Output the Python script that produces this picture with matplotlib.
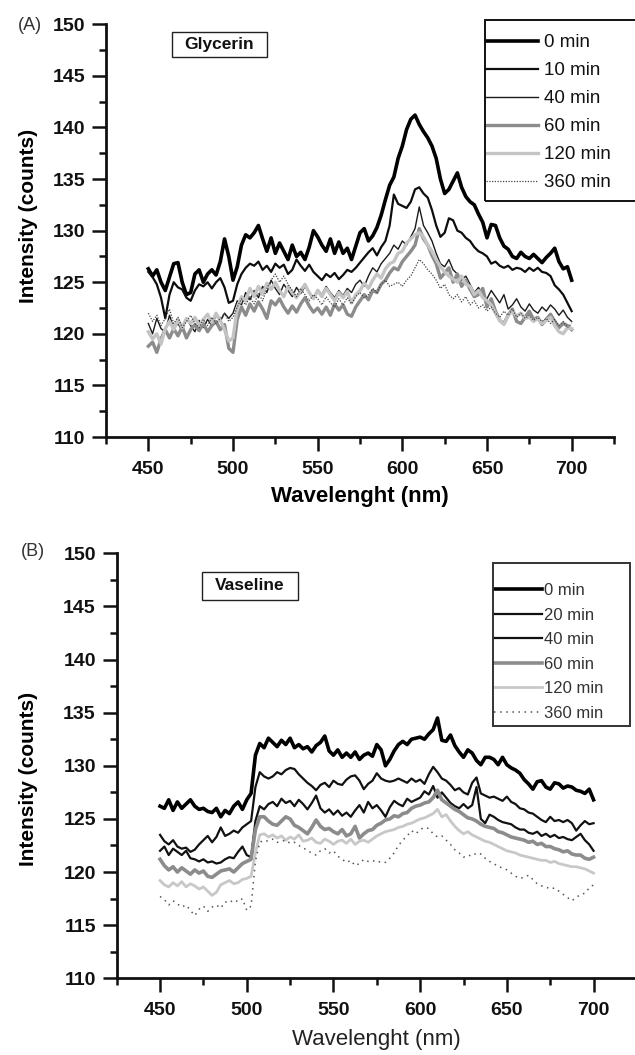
"""Emission spectra of glycerin and vaseline samples over time (two stacked panels)."""

import numpy as np
import matplotlib
matplotlib.use("Agg")
import matplotlib.pyplot as plt
from matplotlib.patches import Rectangle
from matplotlib.ticker import MultipleLocator

# ----------------------------------------------------------------------
# Module configuration
# ----------------------------------------------------------------------

FIG_W_PX = 635
FIG_H_PX = 1055
DPI = 100
FONT = "Liberation Sans"

plt.rcParams["font.family"] = [FONT, "DejaVu Sans"]

# ----------------------------------------------------------------------
# Data
# ----------------------------------------------------------------------

wavelength = np.arange(450, 702.5, 2.5)

x_ticks = [450, 500, 550, 600, 650, 700]
x_tick_labels = ["450", "500", "550", "600", "650", "700"]
y_ticks = [110, 115, 120, 125, 130, 135, 140, 145, 150]
y_tick_labels = ["110", "115", "120", "125", "130", "135", "140", "145", "150"]

glycerin_labels = ["0 min", "10 min", "40 min", "60 min", "120 min", "360 min"]
vaseline_labels = ["0 min", "20 min", "40 min", "60 min", "120 min", "360 min"]

glycerin_0 = [
    126.3, 125.6, 126.2, 125.0, 124.2, 125.5, 126.8, 126.9, 125.0, 123.8,
    124.0, 125.8, 126.2, 125.0, 125.8, 126.2, 125.7, 127.0, 129.2, 127.5,
    125.2, 126.5, 128.6, 129.6, 129.3, 129.8, 130.5, 129.2, 128.0, 129.3,
    127.8, 128.8, 128.0, 127.2, 128.6, 127.5, 127.9, 127.2, 128.4, 130.0,
    129.4, 128.6, 128.0, 129.2, 127.8, 128.9, 127.8, 128.3, 127.2, 128.5,
    129.8, 130.2, 129.0, 129.5, 130.3, 131.5, 133.0, 134.4, 135.2, 137.0,
    138.2, 139.8, 140.8, 141.2, 140.3, 139.6, 139.0, 138.2, 137.0, 135.0,
    133.6, 134.0, 134.8, 135.6, 134.2, 133.3, 132.8, 132.5, 131.6, 130.8,
    129.3, 130.6, 130.5, 129.3, 128.5, 128.2, 127.5, 127.3, 127.9, 127.5,
    127.3, 127.7, 127.3, 126.9, 127.4, 127.8, 128.3, 127.0, 126.3, 126.5,
    125.2,
]
glycerin_10 = [
    126.0, 125.5, 124.8, 123.5, 121.5, 123.8, 125.0, 124.5, 124.3, 123.5,
    123.2, 124.2, 124.8, 124.6, 125.0, 124.4, 125.0, 125.4, 124.5, 123.0,
    123.2, 124.8, 125.8, 126.4, 126.8, 126.6, 127.0, 126.2, 126.6, 126.0,
    126.8, 126.4, 126.7, 125.8, 126.2, 127.2, 126.6, 126.1, 126.7, 126.0,
    125.6, 125.2, 125.8, 125.5, 125.9, 125.3, 125.7, 126.2, 126.0, 126.4,
    126.9, 127.4, 127.9, 128.3, 127.6, 128.4, 129.0, 130.5, 133.5, 132.6,
    132.4, 132.2, 132.8, 134.0, 134.2, 133.6, 133.2, 132.0, 130.5, 129.4,
    129.8, 131.2, 131.0, 130.0, 129.8, 129.3, 129.0, 128.4, 128.0, 127.8,
    127.5, 126.8, 127.0, 126.6, 126.4, 126.6, 126.2, 126.4, 126.3, 126.0,
    126.4, 126.1, 126.4, 126.0, 125.9, 125.6, 124.7, 124.3, 123.8, 123.0,
    122.2,
]
glycerin_40 = [
    121.0, 120.0, 121.5, 120.5, 120.2, 121.8, 120.5, 121.0, 120.3, 121.5,
    120.8, 120.2, 121.3, 120.6, 121.4, 120.8, 121.8, 121.2, 122.0, 121.5,
    122.0, 123.2, 122.8, 124.0, 123.3, 124.2, 123.5, 124.6, 124.0, 125.2,
    124.4, 123.8, 124.8, 124.2, 123.6, 124.5, 123.9, 124.6, 124.0, 123.5,
    124.3, 123.8, 124.6, 124.0, 123.5, 124.2, 123.7, 124.4, 124.0, 124.8,
    125.2, 124.6, 125.6, 126.4, 126.0, 126.8, 127.3, 127.8, 128.6, 128.2,
    129.0, 128.6, 129.4, 130.2, 132.3, 130.5, 129.8, 129.0, 127.8, 126.8,
    126.5, 127.2, 126.2, 125.8, 125.2, 125.6, 124.8, 124.0, 124.5, 123.6,
    123.4, 124.2, 123.6, 123.0, 123.8, 122.4, 122.8, 123.4, 122.6, 122.2,
    122.9, 122.3, 122.0, 122.6, 122.2, 122.8, 122.4, 121.8, 122.3, 121.6,
    121.2,
]
glycerin_60 = [
    118.8, 119.2, 118.2, 119.5, 120.4, 119.6, 120.5, 119.8, 120.7, 119.6,
    120.4, 120.9, 120.3, 121.0, 120.2, 120.8, 121.2, 120.4, 120.9, 118.6,
    118.2, 121.4, 122.6, 121.8, 122.9, 122.2, 123.1, 122.4, 121.5, 123.2,
    122.8, 123.4, 122.6, 122.0, 122.7, 122.1, 122.9, 123.5, 122.7, 122.1,
    122.5, 121.9, 122.6, 121.8, 122.9, 122.3, 122.8, 121.9, 121.7, 122.6,
    123.2, 123.8, 123.3, 124.2, 124.0, 124.8, 125.2, 125.9, 126.4, 126.2,
    127.0, 127.5, 128.0, 128.6, 130.2, 129.2, 128.6, 127.6, 126.8, 125.4,
    125.9, 126.4, 125.0, 125.8, 124.6, 125.2, 124.3, 123.6, 123.8, 124.4,
    122.6, 123.4, 122.2, 121.3, 121.0, 121.8, 122.4, 121.2, 121.0, 121.6,
    122.2, 121.4, 121.6, 120.9, 121.4, 121.9, 121.2, 120.6, 121.0, 120.8,
    120.4,
]
glycerin_120 = [
    120.2, 119.5, 120.0, 119.0, 120.5, 121.2, 120.4, 121.4, 120.6, 121.5,
    121.0, 121.6, 120.8, 121.4, 121.9, 121.1, 122.0, 121.3, 120.4, 119.3,
    119.6, 122.5, 123.6, 123.2, 124.4, 123.6, 124.6, 123.8, 124.9, 124.3,
    125.0, 124.2, 123.6, 124.6, 124.0, 123.5, 124.2, 124.8, 124.0, 123.4,
    124.2, 123.6, 124.4, 123.8, 123.2, 124.0, 123.5, 124.1, 123.0, 123.8,
    124.2, 124.9, 124.4, 125.2, 125.8, 125.4, 126.3, 126.8, 127.0, 127.8,
    128.0, 128.8, 129.2, 129.6, 129.8, 129.4, 128.6, 128.0, 127.2, 126.5,
    126.0, 125.6, 125.3, 125.0, 125.6, 124.8, 124.6, 123.8, 124.2, 123.5,
    123.2, 122.8, 122.0, 121.3, 120.9, 121.8, 122.2, 121.7, 122.0, 121.5,
    121.6, 121.2, 121.5, 121.0, 121.3, 121.6, 120.8, 120.2, 120.0, 120.6,
    120.5,
]
glycerin_360 = [
    122.0, 121.2, 121.8, 120.8, 121.5, 122.4, 121.0, 121.6, 120.6, 121.2,
    121.8, 121.0, 120.6, 121.4, 120.8, 121.6, 121.0, 121.5, 122.0, 121.2,
    121.6, 122.6, 123.4, 122.8, 123.6, 122.9, 123.9, 123.2, 124.4, 125.2,
    125.8, 125.0, 125.6, 124.8, 124.2, 123.6, 124.4, 123.8, 123.2, 123.8,
    123.4, 122.8, 123.6, 123.0, 122.6, 123.4, 122.8, 123.5, 122.9, 123.6,
    124.0, 123.5, 123.8, 124.4, 124.0, 124.8, 125.2, 124.6, 124.8, 125.0,
    124.6, 125.2, 125.6, 126.4, 127.2, 126.8, 126.2, 125.8, 125.2, 124.4,
    124.8, 123.8, 123.4, 123.8, 123.1, 123.6, 122.8, 123.2, 122.5, 122.8,
    122.2, 122.6, 122.0, 121.6, 122.2, 121.8, 122.4, 121.6, 122.0, 121.5,
    121.8, 121.3, 121.6, 121.2, 121.5, 121.0, 121.4, 120.8, 121.2, 120.6,
    121.0,
]

vaseline_0 = [
    126.2, 126.0, 126.8, 125.8, 126.6, 126.0, 126.4, 126.8, 126.2, 125.9,
    126.0, 125.7, 125.6, 126.0, 125.2, 125.8, 125.5, 126.2, 126.6, 125.9,
    126.8, 127.4, 131.0, 132.1, 131.7, 132.6, 132.2, 131.8, 132.4, 132.0,
    132.6, 131.7, 132.0, 131.6, 131.8, 131.3, 131.9, 132.2, 132.8, 131.4,
    131.0, 131.5, 130.8, 131.2, 130.8, 131.3, 130.6, 131.0, 131.2, 130.9,
    132.0, 131.5, 130.0, 130.6, 131.4, 132.0, 132.3, 132.0, 132.5, 132.6,
    132.7, 132.5, 133.0, 133.4, 134.5, 132.4, 132.3, 132.9, 131.9, 131.3,
    130.8, 131.5, 131.2, 130.5, 130.1, 130.8, 130.8, 130.6, 130.1, 130.8,
    130.1, 129.8, 129.6, 129.3, 128.7, 128.3, 127.8, 128.5, 128.6, 128.0,
    127.8, 128.4, 128.3, 127.9, 128.1, 128.0, 127.7, 127.6, 127.4, 127.8,
    126.8,
]
vaseline_20 = [
    123.5, 122.9, 122.6, 123.0, 122.4, 122.2, 122.3, 121.9, 122.1, 122.6,
    123.0, 123.4, 122.8, 123.3, 124.2, 123.4, 123.6, 123.9, 123.7, 124.2,
    124.5, 124.8, 128.0, 129.4, 129.0, 128.8, 129.0, 129.4, 129.2, 129.6,
    129.8, 129.7, 129.2, 128.8, 128.4, 128.1, 127.7, 128.2, 128.4, 128.0,
    128.6, 128.3, 128.2, 128.7, 129.0, 129.1, 128.6, 127.8, 128.3, 128.6,
    129.3, 128.8, 128.6, 128.5, 128.6, 128.8, 128.6, 128.4, 128.8, 128.5,
    128.7, 128.3, 129.2, 129.9, 129.4, 128.8, 128.6, 128.2, 127.7, 127.9,
    127.5, 127.3, 128.4, 128.9, 127.4, 127.2, 127.0, 127.1, 126.9, 126.7,
    127.1, 126.6, 126.4, 126.0, 125.9, 125.6, 125.5, 125.2, 124.9, 124.7,
    125.2, 124.8, 124.9, 124.7, 124.9, 124.6, 123.9, 124.4, 124.8, 124.5,
    124.6,
]
vaseline_40 = [
    122.0, 122.4, 121.6, 122.2, 121.9, 121.6, 122.0, 121.3, 121.2, 121.0,
    121.2, 120.9, 121.0, 120.8, 120.9, 121.2, 121.4, 121.3, 121.9, 122.4,
    121.6, 121.4, 124.8, 126.2, 125.9, 126.4, 126.6, 126.2, 126.9, 126.5,
    126.7, 126.2, 126.8, 126.4, 125.9, 126.5, 127.2, 126.0, 125.6, 125.9,
    125.4, 125.8, 125.3, 125.6, 125.2, 125.8, 126.3, 125.6, 126.6, 126.0,
    126.3, 125.8, 125.2, 126.1, 126.7, 126.4, 126.2, 126.9, 126.6, 126.8,
    127.0, 127.6, 127.3, 128.1, 127.0, 127.5, 127.0, 126.5, 126.2, 126.0,
    126.4, 126.0, 126.3, 128.0, 125.0, 124.6, 125.4, 125.2, 124.9, 124.7,
    124.6, 124.5, 124.2, 124.0, 124.0, 123.7, 123.6, 123.8, 123.4, 123.6,
    123.3, 123.5, 123.2, 123.3, 123.1, 123.0, 123.3, 123.6, 123.0, 122.6,
    122.0,
]
vaseline_60 = [
    121.2, 120.6, 120.2, 120.5, 120.0, 120.4, 120.1, 119.8, 120.2, 119.9,
    120.1, 119.6, 119.5, 119.8, 120.1, 120.2, 120.3, 120.0, 120.4, 120.8,
    121.0, 121.2, 124.0, 125.2, 125.2, 124.8, 124.5, 124.4, 124.8, 125.2,
    125.0, 124.4, 124.2, 123.9, 123.6, 124.2, 124.9, 124.3, 124.0, 124.1,
    123.8, 123.6, 124.0, 123.4, 123.6, 124.3, 123.2, 123.6, 123.9, 124.0,
    124.4, 124.6, 124.9, 125.0, 125.3, 125.2, 125.5, 125.6, 126.0, 126.2,
    126.3, 126.5, 126.6, 127.0, 127.7, 126.8, 126.5, 126.2, 125.9, 125.7,
    125.4, 125.1, 125.0, 124.8, 124.5, 124.3, 124.2, 124.1, 123.8, 123.7,
    123.5, 123.3, 123.2, 123.1, 123.0, 122.8, 122.9, 122.6, 122.7, 122.4,
    122.4, 122.2, 122.1, 121.9, 122.0, 121.7, 121.6, 121.6, 121.3, 121.2,
    121.4,
]
vaseline_120 = [
    119.2, 118.8, 118.6, 119.0, 118.7, 119.1, 118.6, 118.9, 118.7, 118.4,
    118.6, 118.2, 117.8, 118.1, 118.8, 119.0, 119.2, 118.9, 119.0, 119.3,
    119.4, 119.6, 121.8, 123.5, 123.6, 123.3, 123.5, 123.2, 123.4, 123.0,
    123.3, 123.1, 123.5, 122.9, 123.0, 123.2, 122.8, 122.7, 123.1, 122.9,
    122.6, 122.9, 123.0, 122.7, 123.1, 122.6, 122.9, 123.0, 122.8, 123.1,
    123.4, 123.6, 123.8, 123.9, 124.0, 124.2, 124.3, 124.5, 124.6, 124.8,
    125.0, 125.1, 125.3, 125.5, 125.9, 125.2, 125.4, 124.8, 124.3, 123.9,
    123.6, 123.8, 123.5, 123.3, 123.1, 122.9, 122.8, 122.6, 122.4, 122.2,
    122.0, 121.9, 121.8, 121.6, 121.5, 121.4, 121.3, 121.2, 121.1, 121.1,
    120.9, 121.0, 120.8, 120.7, 120.6, 120.5, 120.5, 120.4, 120.3, 120.1,
    119.9,
]
vaseline_360 = [
    117.7, 117.4, 116.9, 117.3, 117.0, 116.7, 116.9, 116.4, 115.9, 116.5,
    116.8, 116.3, 116.7, 116.9, 116.6, 117.2, 117.1, 117.4, 117.2, 117.5,
    116.4, 116.8, 121.0, 122.8, 123.0, 122.9, 123.1, 122.8, 122.9, 123.0,
    122.7, 122.8, 122.5, 122.3, 122.0, 121.8, 121.6, 122.0, 122.2, 121.8,
    122.0, 121.5, 121.2, 120.9, 121.1, 120.6, 120.8, 121.2, 121.0, 121.1,
    120.9, 121.0, 120.9, 121.3, 121.8, 122.5, 123.0, 123.4, 123.9, 123.6,
    124.0, 124.2, 124.1, 123.6, 123.3, 123.4, 123.0, 122.6, 122.1, 121.8,
    121.4, 121.6, 121.5, 121.8, 121.7, 121.3, 121.0, 120.8, 120.5, 120.4,
    120.2, 119.9, 119.6, 119.4, 119.5, 119.7, 119.3, 118.9, 118.7, 118.6,
    118.4, 118.5, 118.2, 117.9, 117.6, 117.3, 117.6, 117.9, 118.0, 118.5,
    118.8,
]

# ----------------------------------------------------------------------
# Styles
# ----------------------------------------------------------------------

GLYCERIN_STYLES = [
    dict(color="#000000", lw=2.6, ls="-"),
    dict(color="#0d0d0d", lw=1.6, ls="-"),
    dict(color="#1a1a1a", lw=1.0, ls="-"),
    dict(color="#8c8c8c", lw=2.4, ls="-"),
    dict(color="#c4c4c4", lw=2.4, ls="-"),
    dict(color="#444444", lw=0.9, ls=(0, (1, 1.2))),
]
VASELINE_STYLES = [
    dict(color="#000000", lw=2.6, ls="-"),
    dict(color="#111111", lw=1.6, ls="-"),
    dict(color="#111111", lw=1.6, ls="-"),
    dict(color="#8c8c8c", lw=2.6, ls="-"),
    dict(color="#c8c8c8", lw=2.0, ls="-"),
    dict(color="#555555", lw=1.1, ls=(0, (1, 3))),
]


def px_x(px):
    return px / FIG_W_PX


def px_y(px):
    return 1 - px / FIG_H_PX


def style_axes(ax):
    """Origin-like axes: left/bottom spines only, bold tick labels."""
    for side in ("top", "right"):
        ax.spines[side].set_visible(False)
    for side in ("left", "bottom"):
        ax.spines[side].set_linewidth(2.0)
        ax.spines[side].set_color("#111111")
    ax.set_xlim(425, 725)
    ax.set_ylim(110, 150)
    ax.set_xticks(x_ticks, labels=x_tick_labels, fontweight="bold",
                  fontsize=14, color="#111111")
    ax.set_yticks(y_ticks, labels=y_tick_labels, fontweight="bold",
                  fontsize=14, color="#111111")
    ax.xaxis.set_minor_locator(MultipleLocator(25))
    ax.yaxis.set_minor_locator(MultipleLocator(2.5))
    ax.tick_params(which="major", direction="out", length=10, width=1.8,
                   color="#111111")
    ax.tick_params(which="minor", direction="out", length=5, width=1.8,
                   color="#111111")
    ax.tick_params(axis="x", which="major", pad=7)
    ax.tick_params(axis="y", which="major", pad=5)


def draw_panel(ax, series, labels, styles):
    for values, label, st in zip(series, labels, styles):
        ax.plot(wavelength, values, label=label, color=st["color"],
                lw=st["lw"], linestyle=st["ls"], solid_joinstyle="round")
    style_axes(ax)


def frame_box(fig, box_px, edgecolor, lw, facecolor="white"):
    """Plain rectangle in figure pixels, box given as (left, top, right, bottom)."""
    left, top, right, bottom = box_px
    rect = Rectangle((px_x(left), px_y(bottom)), px_x(right - left),
                     (bottom - top) / FIG_H_PX, transform=fig.transFigure,
                     facecolor=facecolor, edgecolor=edgecolor, lw=lw, zorder=2)
    fig.add_artist(rect)


def name_box(fig, text, box_px, fontsize):
    """Small framed sample name."""
    left, top, right, bottom = box_px
    frame_box(fig, box_px, "#222222", 1.0)
    fig.text(px_x((left + right) / 2), px_y((top + bottom) / 2), text,
             ha="center", va="center", fontsize=fontsize,
             fontweight="bold", color="#111111", zorder=3)


def add_legend(fig, ax, box_px, first_row_px, size, handlelength,
               handletextpad, labelspacing, text_color):
    left, top, right, bottom = box_px
    frame_box(fig, box_px, text_color, 1.4, facecolor="none")
    row_h = 0.93 * size * DPI / 72
    leg = ax.legend(loc="upper left",
                    bbox_to_anchor=(px_x(left + 1), px_y(first_row_px - row_h / 2)),
                    bbox_transform=fig.transFigure, borderaxespad=0,
                    borderpad=0, prop=dict(family=FONT, size=size),
                    handlelength=handlelength, handletextpad=handletextpad,
                    labelspacing=labelspacing, frameon=False)
    for txt in leg.get_texts():
        txt.set_color(text_color)
    return leg


fig = plt.figure(figsize=(FIG_W_PX / DPI, FIG_H_PX / DPI), dpi=DPI)

# top panel: glycerin
ax_a = fig.add_axes([px_x(106), px_y(437), (614 - 106) / FIG_W_PX,
                     (437 - 24.3) / FIG_H_PX])
draw_panel(ax_a, [glycerin_0, glycerin_10, glycerin_40, glycerin_60,
                  glycerin_120, glycerin_360], glycerin_labels,
           GLYCERIN_STYLES)
ax_a.set_xlabel("Wavelenght (nm)", fontsize=16, fontweight="bold")
ax_a.set_ylabel("Intensity (counts)", fontsize=15, fontweight="bold")
ax_a.xaxis.label.set_va("center")
ax_a.yaxis.label.set_va("center")
ax_a.xaxis.set_label_coords(0.5, -0.145)
ax_a.yaxis.set_label_coords(-0.1535, 0.535)
add_legend(fig, ax_a, (485, 20, 645, 201), 42.7, 13.5, 2.75, 0.37, 0.58,
           "#111111")

# bottom panel: vaseline
ax_b = fig.add_axes([px_x(116.7), px_y(978.3), (636.9 - 116.7) / FIG_W_PX,
                     (978.3 - 553.3) / FIG_H_PX])
draw_panel(ax_b, [vaseline_0, vaseline_20, vaseline_40, vaseline_60,
                  vaseline_120, vaseline_360], vaseline_labels,
           VASELINE_STYLES)
ax_b.set_xlabel("Wavelenght (nm)", fontsize=16, color="#222222")
ax_b.set_ylabel("Intensity (counts)", fontsize=15, fontweight="bold")
ax_b.xaxis.label.set_va("center")
ax_b.yaxis.label.set_va("center")
ax_b.xaxis.set_label_coords(0.5, -0.145)
ax_b.yaxis.set_label_coords(-0.1705, 0.47)
add_legend(fig, ax_b, (493, 563, 630, 726), 591, 12, 2.9, 0.12, 0.57,
           "#333333")

# sample names and panel letters
name_box(fig, "Glycerin", (172, 32, 267, 57), 12.5)
name_box(fig, "Vaseline", (202, 572, 298, 600), 12.5)
fig.text(px_x(42), px_y(25), "(A)", ha="right", va="center", fontsize=13,
         color="#333333")
fig.text(px_x(45), px_y(552), "(B)", ha="right", va="center", fontsize=13,
         color="#333333")

fig.savefig("out.png", dpi=DPI)
